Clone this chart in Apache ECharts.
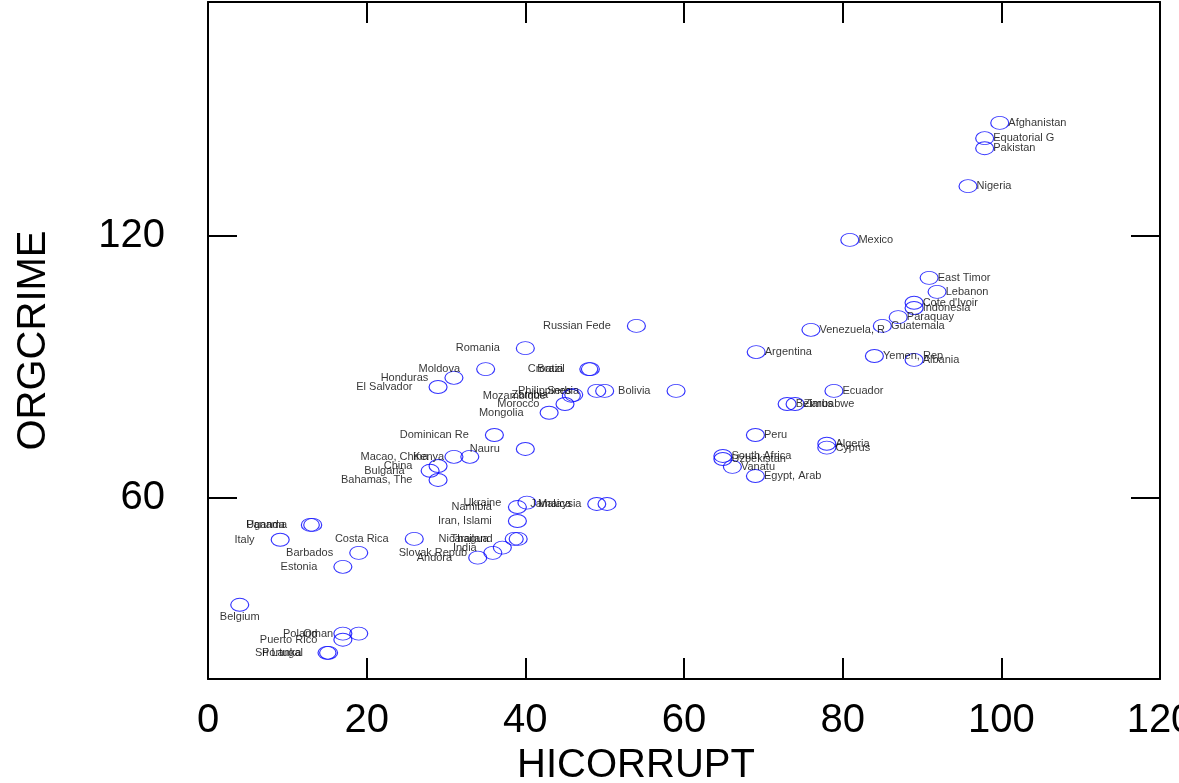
<!DOCTYPE html>
<html>
<head>
<meta charset="utf-8">
<script src="https://cdn.jsdelivr.net/npm/echarts@6/dist/echarts.min.js"></script>
<style>
  html, body { margin: 0; padding: 0; background: #fff; }
  #chart { width: 1179px; height: 783px; }
</style>
</head>
<body>
<div id="chart"></div>
<script>
// 数据
var countries = [
    "Afghanistan", "Equatorial G", "Pakistan", "Nigeria", "Mexico", "East Timor", "Lebanon",
    "Cote d'Ivoir", "Indonesia", "Paraquay", "Guatemala", "Venezuela, R", "Argentina", "Yemen, Rep",
    "Albania", "Ecuador", "Belarus", "Zimbabwe", "Peru", "Algeria", "Cyprus", "South Africa",
    "Uzbekistan", "Vanatu", "Egypt, Arab", "Russian Fede", "Bolivia", "Croatia", "Brazil",
    "Philippines", "Serbia", "Mozambique", "Zambia", "Morocco", "Mongolia", "Romania", "Moldova",
    "Honduras", "El Salvador", "Dominican Re", "Nauru", "Kenya", "Macao, China", "China", "Bulgaria",
    "Bahamas, The", "Ukraine", "Namibia", "Jamaica", "Malaysia", "Iran, Islami", "Uganda", "Panama",
    "Italy", "Costa Rica", "Nicaragua", "Thailand", "India", "Slovak Repub", "Andora", "Barbados",
    "Estonia", "Belgium", "Poland", "Oman", "Puerto Rico", "Sri Lanka", "Portugal"
];
var hicorrupt = [
    99.8, 97.9, 97.9, 95.8, 80.9, 90.9, 91.9,
    89.0, 89.0, 87.0, 85.0, 76.0, 69.1, 84.0,
    89.0, 78.9, 73.0, 74.0, 69.0, 78.0, 78.0, 64.9,
    64.9, 66.1, 69.0, 54.0, 59.0, 48.0, 48.2,
    49.0, 50.0, 45.8, 46.1, 45.0, 43.0, 40.0, 35.0,
    31.0, 29.0, 36.1, 40.0, 33.0, 31.0, 29.0, 28.0,
    29.0, 40.2, 39.0, 49.0, 50.3, 39.0, 12.9, 13.2,
    9.1, 26.0, 38.6, 39.1, 37.1, 35.9, 34.0, 19.0,
    17.0, 4.0, 17.0, 19.0, 17.0, 15.0, 15.2
];
var orgcrime = [
    145.9, 142.4, 140.1, 131.4, 119.1, 110.4, 107.2,
    104.7, 103.5, 101.4, 99.4, 98.5, 93.4, 92.5,
    91.6, 84.5, 81.5, 81.5, 74.4, 72.4, 71.5, 69.6,
    68.9, 67.1, 65.0, 99.4, 84.5, 89.5, 89.5,
    84.5, 84.5, 83.4, 83.6, 81.5, 79.5, 94.3, 89.5,
    87.5, 85.4, 74.4, 71.2, 69.4, 69.4, 67.3, 66.2,
    64.1, 58.9, 57.9, 58.6, 58.6, 54.7, 53.8, 53.8,
    50.4, 50.6, 50.6, 50.6, 48.6, 47.4, 46.3, 47.4,
    44.2, 35.5, 28.9, 28.9, 27.5, 24.5, 24.5
];
var xTicks = [0, 20, 40, 60, 80, 100, 120];
var yTicks = [60, 120];

// 标签位置: 左侧 / 下方, 其余在右侧
var bottomLabeled = ["Belgium"];

var myChart = echarts.init(document.getElementById("chart"));

var points = [];
for (var i = 0; i < countries.length; i++) {
    var pos = "right", dist = -1;
    if (bottomLabeled.indexOf(countries[i]) >= 0) {
        pos = "bottom"; dist = 0;
    } else if (hicorrupt[i] < 60) {
        pos = "left"; dist = 16;
    }
    points.push({
        name: countries[i],
        value: [hicorrupt[i], orgcrime[i]],
        label: { position: pos, distance: dist }
    });
}

var fontFamily = "Liberation Sans, Arial, sans-serif";
var lineStyle = { color: "#000", width: 2 };

var option = {
    animation: false,
    backgroundColor: "#fff",
    grid: { left: 208, right: 19, top: 2, bottom: 104, outerBoundsMode: "none", containLabel: false },
    xAxis: [{
        type: "value",
        min: 0,
        max: 120,
        interval: 20,
        position: "bottom",
        name: "HICORRUPT",
        nameLocation: "middle",
        nameGap: 66,
        nameTextStyle: { fontFamily: fontFamily, fontSize: 40, color: "#000", padding: [0, 96, 0, 0] },
        axisLine: { show: true, onZero: false, lineStyle: lineStyle },
        axisTick: { show: true, inside: true, length: 21, lineStyle: lineStyle },
        axisLabel: { show: true, margin: 22, fontFamily: fontFamily, fontSize: 40, color: "#000",
            customValues: xTicks },
        splitLine: { show: false }
    }, {
        type: "value",
        min: 0,
        max: 120,
        interval: 20,
        position: "top",
        axisLine: { show: true, onZero: false, lineStyle: lineStyle },
        axisTick: { show: true, inside: true, length: 21, lineStyle: lineStyle },
        axisLabel: { show: false },
        splitLine: { show: false }
    }],
    yAxis: [{
        type: "value",
        min: 18.5,
        max: 173.6,
        position: "left",
        name: "ORGCRIME",
        nameLocation: "middle",
        nameGap: 154,
        nameTextStyle: { fontFamily: fontFamily, fontSize: 40, color: "#000" },
        axisLine: { show: true, onZero: false, lineStyle: lineStyle },
        axisTick: { show: true, inside: true, length: 29, lineStyle: lineStyle, customValues: yTicks },
        axisLabel: { show: true, margin: 43, fontFamily: fontFamily, fontSize: 40, color: "#000",
            customValues: yTicks },
        splitLine: { show: false }
    }, {
        type: "value",
        min: 18.5,
        max: 173.6,
        position: "right",
        axisLine: { show: true, onZero: false, lineStyle: lineStyle },
        axisTick: { show: true, inside: true, length: 29, lineStyle: lineStyle, customValues: yTicks },
        axisLabel: { show: false },
        splitLine: { show: false }
    }],
    series: [{
        type: "scatter",
        xAxisIndex: 0,
        yAxisIndex: 0,
        symbol: "circle",
        symbolSize: [18, 13],
        itemStyle: {
            color: "rgba(0,0,0,0)",
            borderColor: "#0000ff",
            borderWidth: 1
        },
        label: {
            show: true,
            formatter: "{b}",
            fontFamily: fontFamily,
            fontSize: 11,
            color: "#000"
        },
        labelLayout: { hideOverlap: false },
        emphasis: { disabled: true },
        data: points
    }]
};

myChart.setOption(option);
</script>
</body>
</html>
